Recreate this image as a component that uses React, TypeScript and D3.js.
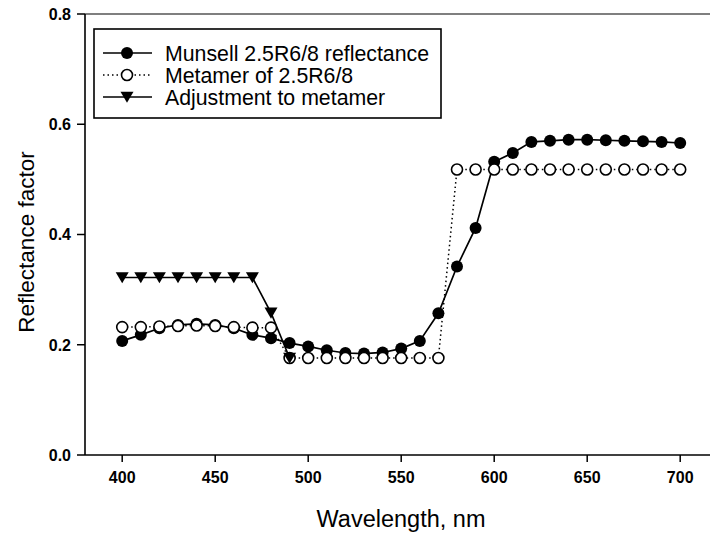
import React from "react";
import * as d3 from "d3";

const wavelengths = [400,410,420,430,440,450,460,470,480,490,500,510,520,530,540,550,560,570,580,590,600,610,620,630,640,650,660,670,680,690,700];
const munsell = [0.207,0.218,0.230,0.236,0.238,0.236,0.230,0.218,0.212,0.203,0.197,0.190,0.185,0.184,0.186,0.193,0.207,0.257,0.342,0.412,0.532,0.548,0.568,0.570,0.572,0.572,0.571,0.570,0.569,0.568,0.566];
const metamer = [0.232,0.232,0.233,0.234,0.235,0.234,0.232,0.231,0.231,0.176,0.176,0.176,0.176,0.176,0.176,0.176,0.176,0.176,0.518,0.518,0.518,0.518,0.518,0.518,0.518,0.518,0.518,0.518,0.518,0.518,0.518];
const adjWavelengths = [400,410,420,430,440,450,460,470,480,490];
const adjustment = [0.322,0.322,0.322,0.322,0.322,0.322,0.322,0.322,0.258,0.176];
const xTicks = [400,450,500,550,600,650,700];
const yTicks = [0.0,0.2,0.4,0.6,0.8];
const legendLabels = ["Munsell 2.5R6/8 reflectance","Metamer of 2.5R6/8","Adjustment to metamer"];

export default function App() {
  const W = 710, H = 533;
  const x = d3.scaleLinear().domain([380, 720]).range([85, 717.4]);
  const y = d3.scaleLinear().domain([0, 0.8]).range([455, 14]);
  const font = "'Liberation Sans', Arial, sans-serif";
  const line = d3.line<[number, number]>().x(d => x(d[0])).y(d => y(d[1]));
  const mData = wavelengths.map((w, i) => [w, munsell[i]] as [number, number]);
  const tData = wavelengths.map((w, i) => [w, metamer[i]] as [number, number]);
  const aData = adjWavelengths.map((w, i) => [w, adjustment[i]] as [number, number]);
  const tri = (cx: number, cy: number, s = 6.5) => `M${cx - s},${cy - s * 0.8}L${cx + s},${cy - s * 0.8}L${cx},${cy + s * 0.9}Z`;
  const x0 = 85, y0 = 455;
  const legX = 94, legY = 29, legW = 347, legH = 89;
  const rowY = [53, 75, 97];
  return (
    <svg width={W} height={H} style={{ position: "absolute", left: 0, top: 0, background: "#fff" }}>
      <rect x={0} y={0} width={W} height={H} fill="#fff" />
      {/* frame */}
      <line x1={x0} x2={x0} y1={14} y2={y0} stroke="#000" strokeWidth={1.6} />
      <line x1={x0} x2={W} y1={y0} y2={y0} stroke="#000" strokeWidth={1.6} />
      <line x1={x0} x2={W} y1={14} y2={14} stroke="#000" strokeWidth={1.2} />
      {yTicks.map(t => (
        <g key={"y" + t}>
          <line x1={x0 - 8} x2={x0} y1={y(t)} y2={y(t)} stroke="#000" strokeWidth={1.5} />
          <text x={x0 - 14} y={y(t)} dy="0.36em" textAnchor="end" fontFamily={font} fontSize={16} fontWeight="bold">{t.toFixed(1)}</text>
        </g>
      ))}
      {xTicks.map(t => (
        <g key={"x" + t}>
          <line x1={x(t)} x2={x(t)} y1={y0} y2={y0 + 7} stroke="#000" strokeWidth={1.5} />
          <text x={x(t)} y={y0 + 22} dy="0.36em" textAnchor="middle" fontFamily={font} fontSize={16} fontWeight="bold">{t}</text>
        </g>
      ))}
      <text x={401} y={519} dy="0.36em" textAnchor="middle" fontFamily={font} fontSize={23.5}>Wavelength, nm</text>
      <text transform={`translate(26,242) rotate(-90)`} dy="0.36em" textAnchor="middle" fontFamily={font} fontSize={22.5}>Reflectance factor</text>

      {/* series lines */}
      <path d={line(tData) || ""} fill="none" stroke="#000" strokeWidth={1.5} strokeDasharray="1.5,3" />
      <path d={line(mData) || ""} fill="none" stroke="#000" strokeWidth={1.7} />
      <path d={line(aData) || ""} fill="none" stroke="#000" strokeWidth={1.7} />
      {/* markers */}
      {mData.map((d, i) => <circle key={"m" + i} cx={x(d[0])} cy={y(d[1])} r={6} fill="#000" />)}
      {tData.map((d, i) => <circle key={"t" + i} cx={x(d[0])} cy={y(d[1])} r={5.5} fill="#fff" stroke="#000" strokeWidth={1.6} />)}
      {aData.map((d, i) => <path key={"a" + i} d={tri(x(d[0]), y(d[1]))} fill="#000" />)}

      {/* legend */}
      <rect x={legX} y={legY} width={legW} height={legH} fill="#fff" stroke="#000" strokeWidth={1.6} />
      <line x1={103} x2={152} y1={rowY[0]} y2={rowY[0]} stroke="#000" strokeWidth={1.7} />
      <circle cx={127} cy={rowY[0]} r={6} fill="#000" />
      <line x1={103} x2={152} y1={rowY[1]} y2={rowY[1]} stroke="#000" strokeWidth={1.5} strokeDasharray="1.5,3" />
      <circle cx={127} cy={rowY[1]} r={5.5} fill="#fff" stroke="#000" strokeWidth={1.6} />
      <line x1={103} x2={152} y1={rowY[2]} y2={rowY[2]} stroke="#000" strokeWidth={1.7} />
      <path d={tri(127, rowY[2])} fill="#000" />
      {legendLabels.map((l, i) => (
        <text key={l} x={165} y={rowY[i]} dy="0.36em" fontFamily={font} fontSize={21.3}>{l}</text>
      ))}
    </svg>
  );
}
